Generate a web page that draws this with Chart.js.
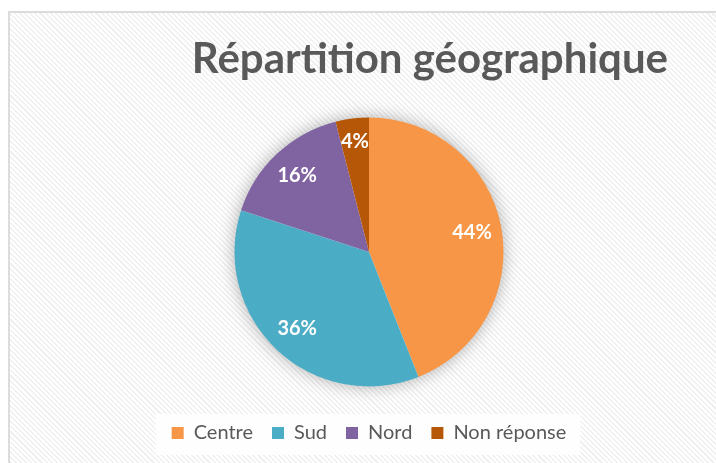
<!DOCTYPE html>
<html>
<head>
<meta charset="utf-8">
<script src="https://cdn.jsdelivr.net/npm/chart.js@4/dist/chart.umd.min.js"></script>
<style>
html, body { margin: 0; padding: 0; background: #fff; width: 716px; height: 463px; overflow: hidden; }
#frame {
    position: absolute; left: 8px; top: 11px; width: 730px; height: 470px;
    border: 2px solid #dcdcdc;
    background: repeating-linear-gradient(45deg, #f0f0f0 0 1.5px, #fff 1.5px 3.6px);
}
#wrap { position: absolute; left: 0; top: 0; width: 706px; height: 460px; }
</style>
</head>
<body>
<div id="frame"><div id="wrap"><canvas id="chart"></canvas></div></div>
<script>
const titleText = 'Répartition géographique';
const categories = ['Centre', 'Sud', 'Nord', 'Non réponse'];
const shares = [44, 36, 16, 4];
const colors = ['#F79646', '#4BACC6', '#8064A2', '#B65708'];

// soft shadow behind the pie + white box behind the legend
const decor = {
    id: 'decor',
    beforeDatasetsDraw(chart) {
        const arc = chart.getDatasetMeta(0).data[0];
        if (!arc) return;
        const ctx = chart.ctx;
        ctx.save();
        ctx.shadowColor = 'rgba(0,0,0,0.35)';
        ctx.shadowBlur = 18;
        ctx.fillStyle = '#fff';
        ctx.beginPath();
        ctx.arc(arc.x, arc.y, arc.outerRadius - 1, 0, Math.PI * 2);
        ctx.fill();
        ctx.restore();
    },
    beforeDraw(chart) {
        const lg = chart.legend;
        if (!lg || !lg.legendHitBoxes.length) return;
        const boxes = lg.legendHitBoxes;
        const left = Math.min(...boxes.map(b => b.left));
        const right = Math.max(...boxes.map(b => b.left + b.width));
        const mid = boxes[0].top + boxes[0].height / 2;
        const ctx = chart.ctx;
        ctx.save();
        ctx.fillStyle = 'rgba(255,255,255,0.85)';
        ctx.fillRect(left - 16, mid - 19, right - left + 30, 41);
        ctx.restore();
    }
};

// percentage labels inside the slices
const sliceLabels = {
    id: 'sliceLabels',
    afterDatasetsDraw(chart) {
        const ctx = chart.ctx;
        const meta = chart.getDatasetMeta(0);
        ctx.save();
        ctx.fillStyle = '#fff';
        ctx.font = 'bold 20px Lato';
        ctx.textAlign = 'center';
        ctx.textBaseline = 'middle';
        meta.data.forEach((arc, i) => {
            const mid = (arc.startAngle + arc.endAngle) / 2;
            const f = shares[i] < 10 ? 0.83 : 0.78;
            const x = arc.x + Math.cos(mid) * arc.outerRadius * f;
            const y = arc.y + Math.sin(mid) * arc.outerRadius * f;
            ctx.fillText(shares[i] + '%', x, y);
        });
        ctx.restore();
    }
};

new Chart(document.getElementById('chart'), {
    type: 'pie',
    data: {
        labels: categories,
        datasets: [{ data: shares, backgroundColor: colors, borderWidth: 0, hoverOffset: 0 }]
    },
    options: {
        responsive: true,
        maintainAspectRatio: false,
        animation: false,
        radius: 134.5,
        layout: { padding: { left: 60, right: 48, top: 0, bottom: 20 } },
        plugins: {
            title: {
                display: true,
                text: titleText,
                align: 'end',
                color: '#595959',
                font: { family: 'Lato', size: 42, weight: 'bold', lineHeight: 1.2 },
                padding: { top: 21, bottom: 15.4 }
            },
            legend: {
                position: 'bottom',
                labels: {
                    color: '#595959',
                    font: { family: 'Lato', size: 20 },
                    boxWidth: 12,
                    boxHeight: 12,
                    padding: 19
                }
            },
            tooltip: { enabled: false }
        }
    },
    plugins: [decor, sliceLabels]
});
</script>
</body>
</html>
